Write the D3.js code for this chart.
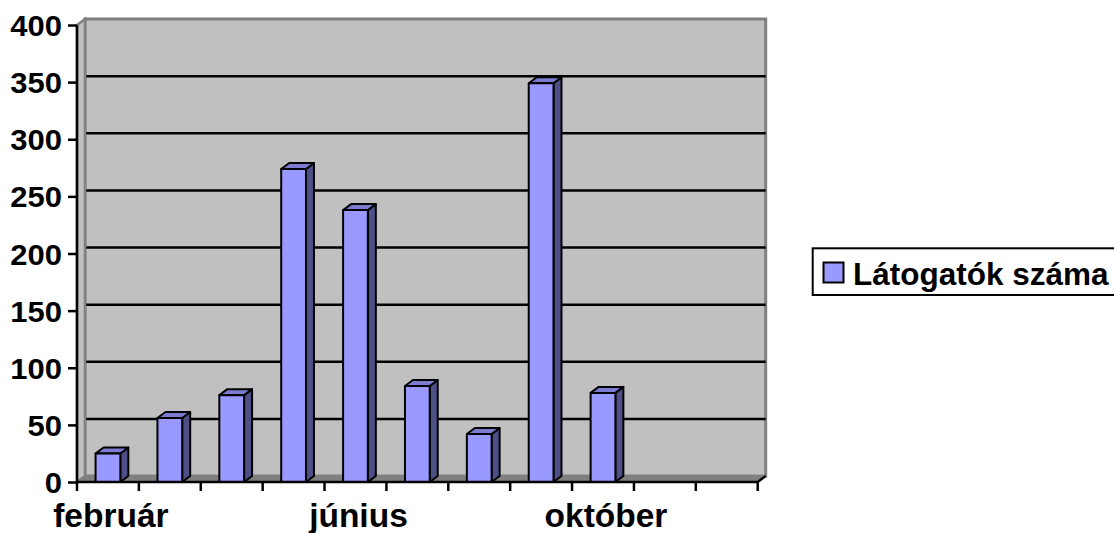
<!DOCTYPE html>
<html>
<head>
<meta charset="utf-8">
<script src="https://cdn.jsdelivr.net/npm/d3@7"></script>
<style>
  body { margin: 0; background: #fff; }
  svg { display: block; }
  text { font-family: "Liberation Sans", Arial, sans-serif; font-weight: bold; }
</style>
</head>
<body>
<div id="chart"></div>
<script>
const months = ["február", "március", "április", "május", "június", "július",
                "augusztus", "szeptember", "október", "november", "december"]
const visitors = [25, 56, 76, 274, 238, 84, 42, 349, 78, null, null]
const yTicks = [0, 50, 100, 150, 200, 250, 300, 350, 400]
const shownLabels = ["február", "június", "október"]
const seriesName = "Látogatók száma"

const width = 1114, height = 533
const dx = 8, dy = -6   // depth offset of the 3d walls

const svg = d3.select("#chart").append("svg")
    .attr("width", width)
    .attr("height", height)

const xScale = d3.scaleBand()
    .domain(months)
    .range([77, 757.7])

const yScale = d3.scaleLinear()
    .domain([0, 400])
    .range([482, 25])

const [x0, x1] = xScale.range()
const yBot = yScale(0), yTop = yScale(400)

// back wall
svg.append("rect")
    .attr("x", x0 + dx)
    .attr("y", yTop + dy)
    .attr("width", x1 - x0)
    .attr("height", yBot - yTop)
    .attr("fill", "#c0c0c0")
    .attr("stroke", "#808080")
    .attr("stroke-width", 3)

// gridlines on the back wall
svg.append("g")
    .selectAll("line")
    .data(yTicks.filter(d => d > 0 && d < 400))
    .enter()
    .append("line")
    .attr("x1", x0 + dx)
    .attr("x2", x1 + dx)
    .attr("y1", d => yScale(d) + dy)
    .attr("y2", d => yScale(d) + dy)
    .attr("stroke", "#000")
    .attr("stroke-width", 2.5)

// side wall
svg.append("polygon")
    .attr("points", [[x0, yBot], [x0, yTop], [x0 + dx, yTop + dy], [x0 + dx, yBot + dy]].join(" "))
    .attr("fill", "#c0c0c0")
    .attr("stroke", "#808080")
    .attr("stroke-width", 2.5)

// floor
svg.append("polygon")
    .attr("points", [[x0, yBot], [x1, yBot], [x1 + dx, yBot + dy], [x0 + dx, yBot + dy]].join(" "))
    .attr("fill", "#808080")

// bars
const barW = xScale.bandwidth() * 0.4
const bars = svg.append("g")
    .selectAll("g")
    .data(months.map((m, i) => ({m, v: visitors[i]})).filter(d => d.v != null))
    .enter()
    .append("g")
    .attr("stroke", "#000")
    .attr("stroke-width", 2)
    .attr("stroke-linejoin", "round")

const bx = d => xScale(d.m) + (xScale.bandwidth() - barW) / 2

bars.append("polygon")   // side
    .attr("points", d => {
        const x = bx(d) + barW, yt = yScale(d.v)
        return [[x, yBot], [x, yt], [x + dx, yt + dy], [x + dx, yBot + dy]].join(" ")
    })
    .attr("fill", "#4f4f88")

bars.append("polygon")   // top
    .attr("points", d => {
        const x = bx(d), yt = yScale(d.v)
        return [[x, yt], [x + barW, yt], [x + barW + dx, yt + dy], [x + dx, yt + dy]].join(" ")
    })
    .attr("fill", "#7c7cd0")

bars.append("rect")      // front
    .attr("x", bx)
    .attr("y", d => yScale(d.v))
    .attr("width", barW)
    .attr("height", d => yBot - yScale(d.v))
    .attr("fill", "#9999ff")

// y axis
const yAxis = d3.axisLeft(yScale)
    .tickValues(yTicks)
    .tickSize(9)
    .tickPadding(6)

const gy = svg.append("g")
    .attr("transform", `translate(${x0},0)`)
    .call(yAxis)
gy.select(".domain").attr("stroke-width", 2.5).attr("d", `M0,${yTop}V${yBot}`)
gy.selectAll(".tick line").attr("stroke-width", 2.5)
gy.selectAll(".tick text")
    .attr("font-size", 29.5)
    .attr("font-family", null)
    .attr("x", 0)
    .attr("dy", "0.36em")
    .attr("transform", "translate(-15,0) scale(1.05,1)")
    .attr("fill", "#000")

// x axis line (with slanted end)
svg.append("path")
    .attr("d", `M${x0},${yBot}H${x1}L${x1 + dx},${yBot + dy}`)
    .attr("fill", "none")
    .attr("stroke", "#000")
    .attr("stroke-width", 2.5)

// x ticks at category boundaries
svg.append("g")
    .selectAll("line")
    .data(months.map(m => xScale(m)).concat([x1]))
    .enter()
    .append("line")
    .attr("x1", d => d)
    .attr("x2", d => d)
    .attr("y1", yBot)
    .attr("y2", yBot + 9)
    .attr("stroke", "#000")
    .attr("stroke-width", 2.5)

// x labels, every fourth month
svg.append("g")
    .selectAll("text")
    .data(shownLabels)
    .enter()
    .append("text")
    .attr("x", d => xScale(d) + xScale.bandwidth() / 2 + 3)
    .attr("y", 527)
    .attr("text-anchor", "middle")
    .attr("font-size", 33.5)
    .text(d => d)

// legend
const legend = svg.append("g")
legend.append("rect")
    .attr("x", 812.7)
    .attr("y", 248.3)
    .attr("width", 330)
    .attr("height", 46.7)
    .attr("fill", "#fff")
    .attr("stroke", "#000")
    .attr("stroke-width", 2)
legend.append("rect")
    .attr("x", 823.5)
    .attr("y", 262.5)
    .attr("width", 20)
    .attr("height", 20)
    .attr("fill", "#9999ff")
    .attr("stroke", "#000")
    .attr("stroke-width", 2)
legend.append("text")
    .attr("x", 853)
    .attr("y", 285)
    .attr("font-size", 31.5)
    .text(seriesName)
</script>
</body>
</html>
